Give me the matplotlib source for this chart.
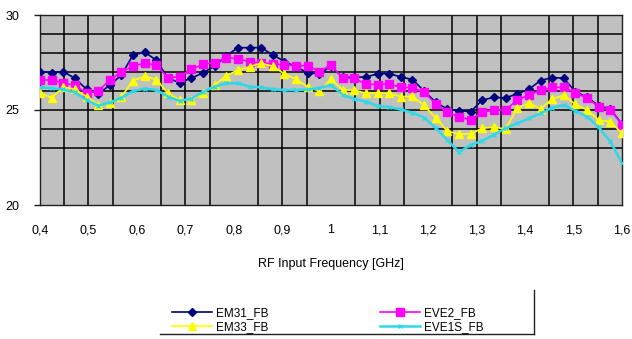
import matplotlib
matplotlib.use("Agg")
import matplotlib.pyplot as plt
from matplotlib.lines import Line2D

plt.rcParams['font.family'] = ['Liberation Sans', 'DejaVu Sans']

# Frequency sweep points (GHz)
FREQ_GHZ = [0.400, 0.424, 0.448, 0.472, 0.496, 0.520, 0.544, 0.568, 0.592, 0.616,
            0.640, 0.664, 0.688, 0.712, 0.736, 0.760, 0.784, 0.808, 0.832, 0.856,
            0.880, 0.904, 0.928, 0.952, 0.976, 1.000, 1.024, 1.048, 1.072, 1.096,
            1.120, 1.144, 1.168, 1.192, 1.216, 1.240, 1.264, 1.288, 1.312, 1.336,
            1.360, 1.384, 1.408, 1.432, 1.456, 1.480, 1.504, 1.528, 1.552, 1.576,
            1.600]

EM31_FB = [27.02, 26.96, 27.02, 26.67, 26.09, 25.85, 26.30, 26.85, 27.90, 28.04,
           27.62, 26.67, 26.44, 26.67, 26.96, 27.30, 27.85, 28.28, 28.28, 28.28,
           27.90, 27.55, 27.28, 26.95, 26.90, 27.30, 26.72, 26.72, 26.74, 26.90,
           26.92, 26.74, 26.60, 26.00, 25.40, 25.05, 24.97, 24.91, 25.53, 25.66,
           25.64, 25.85, 26.09, 26.55, 26.71, 26.67, 25.96, 25.68, 25.22, 25.05,
           24.25]

EVE2_FB = [26.58, 26.58, 26.42, 26.30, 25.88, 26.00, 26.58, 27.02, 27.30, 27.48,
           27.35, 26.70, 26.75, 27.14, 27.40, 27.50, 27.75, 27.70, 27.54, 27.47,
           27.44, 27.36, 27.33, 27.33, 27.02, 27.38, 26.67, 26.67, 26.36, 26.34,
           26.36, 26.20, 26.17, 25.93, 25.33, 24.88, 24.63, 24.49, 24.88, 25.00,
           25.00, 25.53, 25.79, 26.03, 26.19, 26.19, 25.90, 25.63, 25.17, 25.00,
           24.23]

EM33_FB = [25.88, 25.65, 26.20, 26.10, 25.70, 25.26, 25.35, 25.70, 26.55, 26.77,
           26.60, 25.88, 25.53, 25.55, 25.88, 26.32, 26.80, 27.10, 27.28, 27.46,
           27.30, 26.90, 26.62, 26.22, 26.00, 26.61, 26.05, 26.05, 25.88, 25.88,
           25.88, 25.70, 25.72, 25.24, 24.58, 23.88, 23.74, 23.74, 24.04, 24.10,
           24.00, 25.10, 25.37, 25.06, 25.58, 25.77, 25.30, 25.00, 24.47, 24.39,
           23.77]

EVE1S_FB = [26.20, 26.14, 26.08, 25.93, 25.53, 25.23, 25.40, 25.65, 26.00, 26.12,
            26.06, 25.70, 25.48, 25.60, 25.95, 26.23, 26.40, 26.42, 26.23, 26.20,
            26.08, 26.05, 26.05, 26.08, 26.15, 26.32, 25.80, 25.58, 25.44, 25.22,
            25.15, 25.03, 24.86, 24.60, 24.05, 23.42, 22.78, 23.16, 23.38, 23.70,
            24.04, 24.30, 24.56, 24.82, 25.12, 25.26, 24.95, 24.65, 24.08, 23.35,
            22.19]

X_LABEL_POS = [0.4, 0.5, 0.6, 0.7, 0.8, 0.9, 1.0, 1.1, 1.2, 1.3, 1.4, 1.5, 1.6]
X_LABELS = ["0,4", "0,5", "0,6", "0,7", "0,8", "0,9", "1", "1,1", "1,2", "1,3",
            "1,4", "1,5", "1,6"]
Y_TICKS = [20, 25, 30]
Y_LABELS = ["20", "25", "30"]

W, H = 632, 339
fig = plt.figure(figsize=(W / 100, H / 100), dpi=100)
fig.patch.set_facecolor("white")

# plot area in pixels: x 40..622, y 15..205
ax = fig.add_axes([40 / W, 1 - 205 / H, 582 / W, 190 / H])
ax.set_facecolor("#c0c0c0")
ax.set_xlim(0.4, 1.6)
ax.set_ylim(20, 30)

# grid lines
for yv in [23, 24, 25, 26, 27, 28, 29]:
    ax.axhline(yv, color="black", lw=1.1, zorder=1)
for xv in [0.45, 0.5, 0.55, 0.65, 0.7, 0.75, 0.85, 0.9, 0.95,
           1.05, 1.1, 1.15, 1.25, 1.3, 1.35, 1.45, 1.5, 1.55]:
    ax.axvline(xv, color="black", lw=1.1, zorder=1)

series = [
    ("EM31_FB", EM31_FB, dict(color="#000080", marker="D", ms=4.5, lw=1.2,
                              mec="#000080", mfc="#000080")),
    ("EVE2_FB", EVE2_FB, dict(color="#ff00ff", marker="s", ms=6.0, lw=1.2,
                              mec="#ff00ff", mfc="#ff00ff")),
    ("EM33_FB", EM33_FB, dict(color="#ffff00", marker="^", ms=6.0, lw=1.2,
                              mec="#ffff00", mfc="#ffff00")),
    ("EVE1S_FB", EVE1S_FB, dict(color="#2ed8e8", marker="x", ms=3.5, lw=1.8,
                                mew=1.0)),
]
handles = {}
for i, (name, vals, st) in enumerate(series):
    ln, = ax.plot(FREQ_GHZ, vals, label=name, zorder=3 + i, **st)
    handles[name] = ln

for s in ax.spines.values():
    s.set_color("#202020")
    s.set_linewidth(1.0)

ax.set_xticks(X_LABEL_POS)
ax.set_xticklabels(X_LABELS)
ax.set_xticks([0.5, 0.7, 0.9, 1.1, 1.3, 1.5], minor=True)
ax.tick_params(axis="x", which="major", length=0, pad=14, labelsize=9)
ax.tick_params(axis="x", which="minor", length=4, width=1, color="#202020")
ax.set_yticks(Y_TICKS)
ax.set_yticklabels(Y_LABELS)
ax.tick_params(axis="y", which="major", length=4, width=1, pad=11, labelsize=9,
               color="#202020")

ax.set_xlabel("RF Input Frequency [GHz]", fontsize=9)
ax.xaxis.set_label_coords(0.5, -0.28)

# two-column legend: left column EM31/EM33, right column EVE2/EVE1S
order = ["EM31_FB", "EM33_FB", "EVE2_FB", "EVE1S_FB"]
leg = fig.legend([handles[n] for n in order], order, ncol=2,
                 loc="upper left", bbox_to_anchor=(172 / W, 1 - 307 / H),
                 frameon=False, fontsize=8.5, handlelength=3.4,
                 handletextpad=0.3, columnspacing=9.5, labelspacing=0.15,
                 borderpad=0, borderaxespad=0)

# legend box edges
fig.add_artist(Line2D([160 / W, 534 / W], [1 - 334 / H, 1 - 334 / H],
                      transform=fig.transFigure, color="#202020", lw=1.0))
fig.add_artist(Line2D([534 / W, 534 / W], [1 - 290 / H, 1 - 334 / H],
                      transform=fig.transFigure, color="#202020", lw=1.0))

fig.savefig("out.png", dpi=100, facecolor="white")
